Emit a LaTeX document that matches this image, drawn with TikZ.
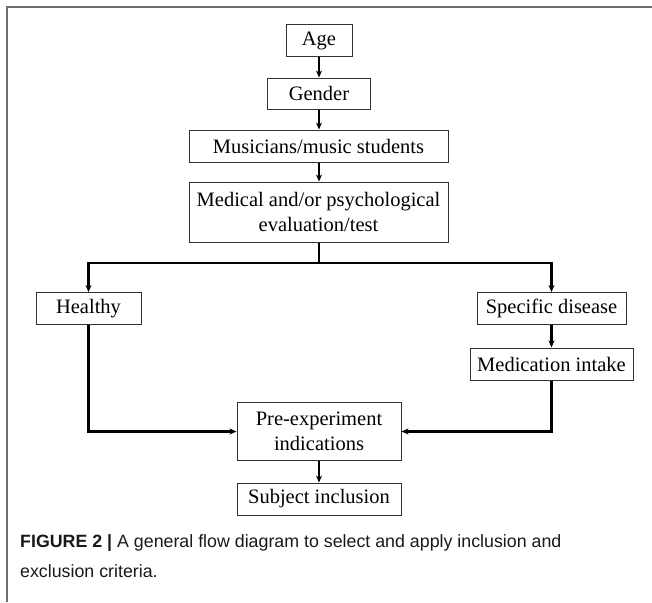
\documentclass[tikz,border=0pt]{standalone}
\usepackage{fontspec}
\setmainfont{Liberation Serif}
\newfontfamily\capfont{Liberation Sans}
\usetikzlibrary{arrows.meta}
\definecolor{framegray}{RGB}{110,110,110}
\definecolor{boxgray}{RGB}{50,50,50}
\tikzset{
  box/.style={draw=boxgray, line width=1pt, inner sep=0pt, align=center,
    font=\fontsize{20.5}{25}\selectfont, text=black},
  conn/.style={line width=2.3pt, draw=black},
  arr/.style={conn, -{Stealth[length=7pt,width=6pt]}},
  capstyle/.style={anchor=base west, inner sep=0pt, font=\capfont\fontsize{17.8}{22}\selectfont, text=black!90}
}
\begin{document}
\begin{tikzpicture}[x=1pt,y=-1pt]
\useasboundingbox (0,0) rectangle (652,602);
% frame
\draw[framegray, line width=1.5pt] (7,602) -- (7,7) -- (652,7);
% nodes
\node[box, minimum width=66pt, minimum height=31pt] (age) at (319,40.5) {Age};
\node[box, minimum width=103pt, minimum height=31pt] (gender) at (319,93.5) {Gender};
\node[box, minimum width=259pt, minimum height=32pt] (musicians) at (318.5,146) {Musicians/music students};
\node[box, minimum width=259pt, minimum height=60pt] (medical) at (318.5,212) {Medical and/or psychological\\evaluation/test};
\node[box, minimum width=105pt, minimum height=32pt] (healthy) at (88.5,308.5) {Healthy};
\node[box, minimum width=149pt, minimum height=32pt] (specific) at (551.5,308.5) {Specific disease};
\node[box, minimum width=163pt, minimum height=32pt] (medication) at (551.5,364) {Medication intake};
\node[box, minimum width=164pt, minimum height=58pt] (pre) at (319,431.5) {Pre-experiment\\indications};
\node[box, minimum width=164pt, minimum height=32pt] (subject) at (319,499) {Subject inclusion};
\coordinate (jn) at (319,263);
% connectors
\draw[arr] (age) -- (gender);
\draw[arr] (gender) -- (gender |- musicians.north);
\draw[arr] (musicians.south -| gender) -- (gender |- medical.north);
\draw[conn] (medical.south -| jn) -- (jn);
\draw[arr] (jn) -| (healthy.north);
\draw[arr] (jn) -| (specific.north);
\draw[arr] (specific) -- (medication);
\draw[arr] (healthy.south) |- (pre.west);
\draw[arr] (medication.south) |- (pre.east);
\draw[arr] (pre) -- (subject);
% caption
\node[capstyle] (cap1) at (20,547) {\textbf{FIGURE 2 |} A general flow diagram to select and apply inclusion and};
\node[capstyle] (cap2) at (20,577) {exclusion criteria.};
\end{tikzpicture}
\end{document}
